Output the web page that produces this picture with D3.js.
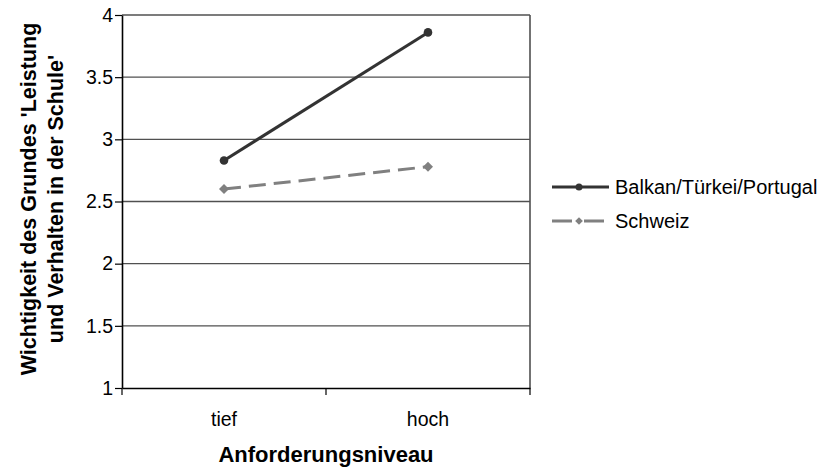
<!DOCTYPE html>
<html><head><meta charset="utf-8">
<script src="https://cdn.jsdelivr.net/npm/d3@7"></script>
<style>body{margin:0;background:#fff}svg{display:block}text{font-family:"Liberation Sans",Arial,sans-serif}</style>
</head><body>
<svg id="c" width="820" height="471"></svg>
<script>
const categories = ["tief", "hoch"];
const seriesNames = ["Balkan/Türkei/Portugal", "Schweiz"];
const balkanValues = [2.83, 3.86];
const schweizValues = [2.60, 2.78];
const yTicks = [1, 1.5, 2, 2.5, 3, 3.5, 4];
const yTickLabels = ["1", "1.5", "2", "2.5", "3", "3.5", "4"];
const xTitle = "Anforderungsniveau";
const yTitleLines = ["Wichtigkeit des Grundes 'Leistung", "und Verhalten in der Schule'"];

const FONT = '"Liberation Sans", Arial, sans-serif';
const svg = d3.select("#c");
const L = 122, R = 530, T = 15, B = 388;
const x = d3.scaleBand().domain(categories).range([L, R]);
const y = d3.scaleLinear().domain([1, 4]).range([B, T]);

// gridlines
svg.append("g").selectAll("line").data(yTicks.filter(v => v > 1)).join("line")
  .attr("x1", L).attr("x2", R).attr("y1", d => y(d)).attr("y2", d => y(d))
  .attr("stroke", "#505050").attr("stroke-width", 1.3);
// right border
svg.append("line").attr("x1", R).attr("x2", R).attr("y1", T).attr("y2", B)
  .attr("stroke", "#505050").attr("stroke-width", 1.6);

// y axis
const yAxis = d3.axisLeft(y).tickValues(yTicks).tickFormat((d, i) => yTickLabels[i]).tickSize(7).tickSizeOuter(0);
const gy = svg.append("g").attr("transform", `translate(${L},0)`).call(yAxis);
gy.select(".domain").attr("stroke", "#000").attr("stroke-width", 1.6);
gy.selectAll(".tick line").attr("stroke", "#000").attr("stroke-width", 1.2);
gy.selectAll(".tick text").attr("font-size", 19.5).attr("fill", "#000").attr("x", -9)
  .style("font-family", FONT);

// x axis
const gx = svg.append("g").attr("transform", `translate(0,${B})`)
  .call(d3.axisBottom(x).tickSize(0).tickSizeOuter(0).tickPadding(24));
gx.select(".domain").attr("stroke", "#000").attr("stroke-width", 1.6);
gx.selectAll(".tick text").attr("font-size", 19.5).attr("fill", "#000")
  .style("font-family", FONT);
const bounds = [L, ...categories.map(c => x(c) + x.bandwidth())];
svg.append("g").selectAll("line").data(bounds).join("line")
  .attr("x1", d => d).attr("x2", d => d).attr("y1", B).attr("y2", B + 7)
  .attr("stroke", "#000").attr("stroke-width", 1.2);

const line = d3.line().x((d, i) => x(categories[i]) + x.bandwidth() / 2).y(d => y(d));
const diamond = d3.symbol().type(d3.symbolSquare).size(50);
const diamondSmall = d3.symbol().type(d3.symbolSquare).size(30);

// Schweiz
svg.append("path").datum(schweizValues).attr("d", line).attr("fill", "none")
  .attr("stroke", "#808080").attr("stroke-width", 3).attr("stroke-dasharray", "17,8");
svg.append("g").selectAll("path").data(schweizValues).join("path")
  .attr("d", diamond)
  .attr("transform", (d, i) => `translate(${x(categories[i]) + x.bandwidth() / 2},${y(d)}) rotate(45)`)
  .attr("fill", "#808080");

// Balkan
svg.append("path").datum(balkanValues).attr("d", line).attr("fill", "none")
  .attr("stroke", "#333").attr("stroke-width", 3);
svg.append("g").selectAll("circle").data(balkanValues).join("circle")
  .attr("cx", (d, i) => x(categories[i]) + x.bandwidth() / 2).attr("cy", d => y(d))
  .attr("r", 4.3).attr("fill", "#333");

// legend
const lg = svg.append("g");
const legY = [187, 221];
lg.append("line").attr("x1", 552).attr("x2", 609).attr("y1", legY[0]).attr("y2", legY[0])
  .attr("stroke", "#333").attr("stroke-width", 3);
lg.append("circle").attr("cx", 579).attr("cy", legY[0]).attr("r", 3.5).attr("fill", "#333");
lg.append("line").attr("x1", 552).attr("x2", 604).attr("y1", legY[1]).attr("y2", legY[1])
  .attr("stroke", "#808080").attr("stroke-width", 3).attr("stroke-dasharray", "20,12");
lg.append("path").attr("d", diamondSmall).attr("transform", `translate(579,${legY[1]}) rotate(45)`).attr("fill", "#808080");
lg.selectAll("text").data(seriesNames).join("text")
  .attr("x", 615).attr("y", (d, i) => legY[i] + 7).attr("font-size", 20).attr("fill", "#000").text(d => d);

// titles
svg.append("text").attr("x", 326).attr("y", 462).attr("text-anchor", "middle")
  .attr("font-size", 22).attr("font-weight", "bold").text(xTitle);
const yt = svg.append("text").attr("transform", "translate(0,199) rotate(-90)")
  .attr("text-anchor", "middle").attr("font-size", 21.5).attr("font-weight", "bold");
yt.selectAll("tspan").data(yTitleLines).join("tspan").attr("x", 0)
  .attr("y", (d, i) => 36 + i * 27).text(d => d);
</script>
</body></html>
